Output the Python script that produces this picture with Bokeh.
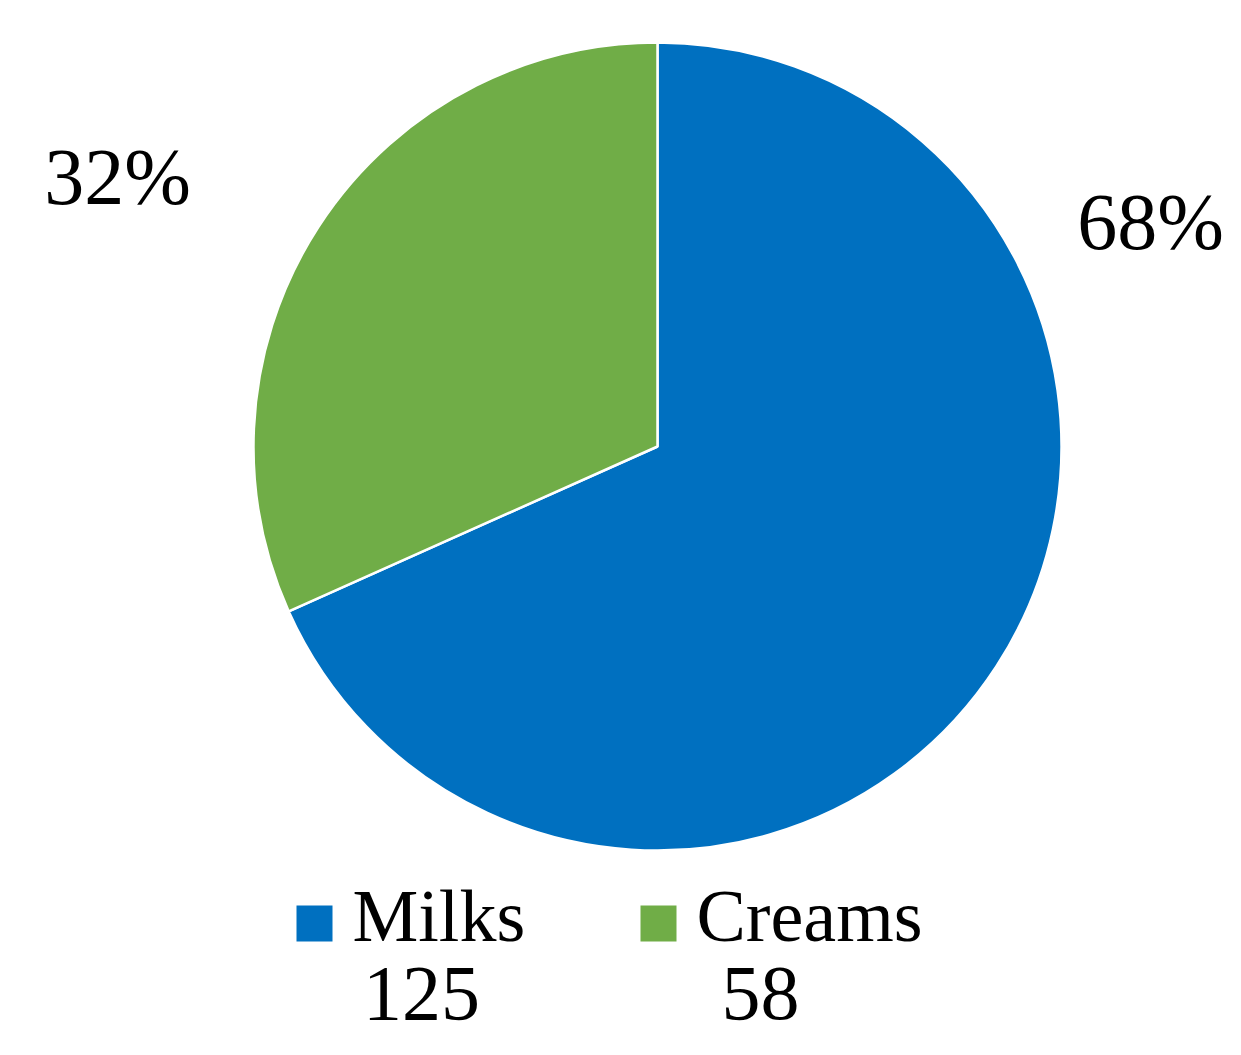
import math
from bokeh.plotting import figure
from bokeh.models import Range1d, ColumnDataSource
from bokeh.core.properties import value
from bokeh.embed import file_html
from bokeh.resources import INLINE

categories = ["Milks", "Creams"]
counts = [125, 58]
colors = ["#0070C0", "#70AD47"]

W, H = 1225, 1039
FONT = "Liberation Serif"

total = sum(counts)
fracs = [c / total for c in counts]
starts, ends = [], []
cum = 0.0
for f in fracs:
    ends.append(math.pi / 2 - cum * 2 * math.pi)
    cum += f
    starts.append(math.pi / 2 - cum * 2 * math.pi)
pct = [f"{round(f * 100)}%" for f in fracs]

p = figure(width=W, height=H, output_backend="svg", toolbar_location=None,
           x_range=Range1d(0, W), y_range=Range1d(0, H),
           min_border=0, outline_line_color=None)
p.axis.visible = False
p.grid.visible = False
p.background_fill_color = "white"
p.border_fill_color = "white"

def Y(v):
    return H - v

cx, cy, r = 657, Y(446), 404
src = ColumnDataSource(dict(cat=categories, start=starts, end=ends, color=colors,
                            x=[cx] * 2, y=[cy] * 2))
p.wedge(x="x", y="y", radius=r, start_angle="start", end_angle="end",
        fill_color="color", line_color="white", line_width=2.5, source=src)

# percentage labels (outside, best-fit style)
lab_x = [1150, 117]
lab_y = [Y(221), Y(176)]
p.text(x=lab_x, y=lab_y, text=pct, text_font=value(FONT), text_font_size="80px",
       text_align="center", text_baseline="alphabetic", text_color="black")

# legend with counts below
sq_x = [314 + i * 344 for i in range(len(categories))]
p.scatter(x=sq_x, y=[Y(923)] * 2, marker="square", size=36,
          fill_color=colors, line_color=None)
p.text(x=[x + 38 for x in sq_x], y=[Y(915)] * 2, text=categories,
       text_font=value(FONT), text_font_size="74px", text_align="left",
       text_baseline="alphabetic", text_color="black")
p.text(x=[421, 760], y=[Y(993)] * 2, text=[str(c) for c in counts],
       text_font=value(FONT), text_font_size="78px", text_align="center",
       text_baseline="alphabetic", text_color="black")

open("out.html", "w").write(file_html(p, INLINE))
